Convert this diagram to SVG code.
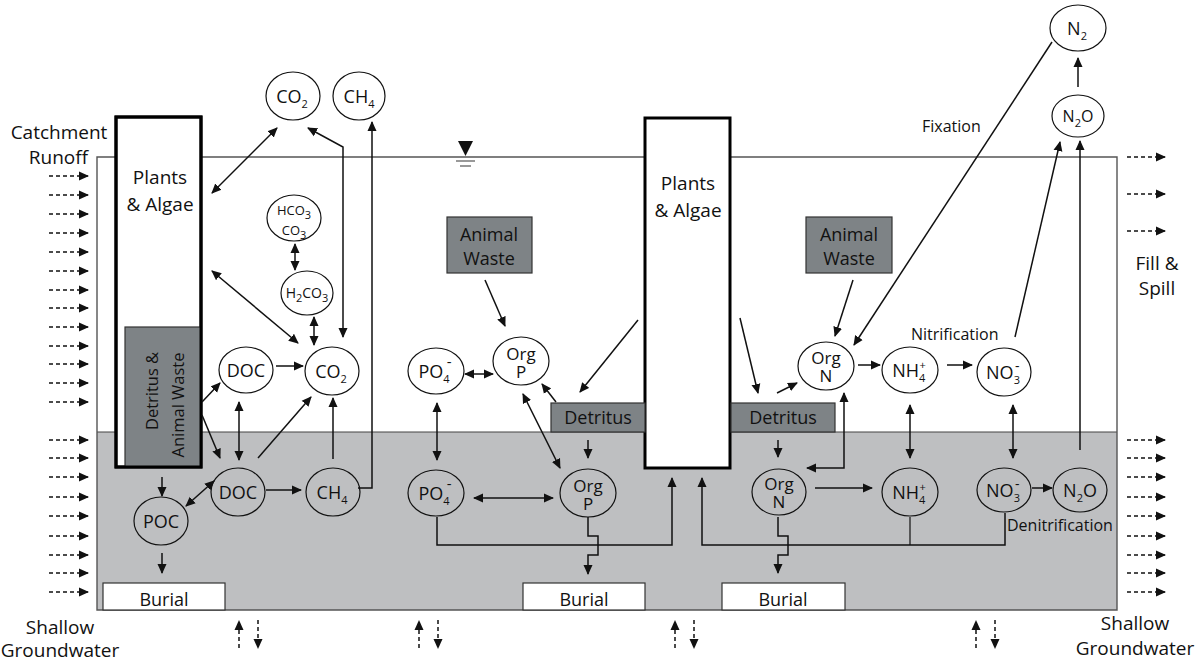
<svg xmlns="http://www.w3.org/2000/svg" width="1198" height="662" viewBox="0 0 1198 662">
<style>
text{font-family:"Open Sans","Noto Sans",sans-serif;fill:#111;}
.t{font-size:19px;}
.lb{font-size:18px;text-anchor:middle;}
.o{font-size:17px;text-anchor:middle;}
.sm{font-size:13px;text-anchor:middle;}
.sb{font-size:11px;}
.nt{font-size:16px;}
.el{fill:none;stroke:#111;stroke-width:1.2;}
.ar{fill:none;stroke:#111;stroke-width:1.5;marker-end:url(#a);}
.bi{fill:none;stroke:#111;stroke-width:1.5;marker-end:url(#a);marker-start:url(#a);}
.ln{fill:none;stroke:#111;stroke-width:1.2;}
.ds{fill:none;stroke:#111;stroke-width:1.5;stroke-dasharray:4 3;marker-end:url(#a);}
.dk{fill:#7e8386;stroke:#333;stroke-width:1.2;}
.pl{fill:#fff;stroke:#000;stroke-width:3;}
.bu{fill:#fff;stroke:#333;stroke-width:1.2;}
</style>
<defs>
<marker id="a" viewBox="0 0 10 10" refX="9" refY="5" markerWidth="10" markerHeight="10" markerUnits="userSpaceOnUse" orient="auto-start-reverse"><path d="M0,0.5 L10,5 L0,9.5 z" fill="#111"/></marker>
</defs>
<rect width="1198" height="662" fill="#fff"/>
<g id="pond">
<rect x="97" y="432" width="1020" height="178" fill="#bebfc1"/>
<line x1="97" y1="432" x2="1117" y2="432" stroke="#444" stroke-width="1.2"/>
<path d="M97,157 V610 H1117 V157 Z" fill="none" stroke="#555" stroke-width="1.4"/>
<polygon points="458,141 473,141 465.5,156" fill="#111"/>
<line x1="456" y1="161" x2="475" y2="161" stroke="#555" stroke-width="1.2"/>
<line x1="460" y1="166" x2="471" y2="166" stroke="#555" stroke-width="1.2"/>
</g>
<g id="labels">
<text class="t" x="59" y="139" text-anchor="middle">Catchment</text>
<text class="t" x="88" y="164" text-anchor="end">Runoff</text>
<text class="t" x="1157" y="270" text-anchor="middle">Fill &amp;</text>
<text class="t" x="1157" y="295" text-anchor="middle">Spill</text>
<text class="t" x="60" y="634" text-anchor="middle">Shallow</text>
<text class="t" x="60" y="657" text-anchor="middle">Groundwater</text>
<text class="t" x="1135" y="630" text-anchor="middle">Shallow</text>
<text class="t" x="1135" y="655" text-anchor="middle">Groundwater</text>
<text class="nt" x="922" y="132">Fixation</text>
<text class="nt" x="911" y="340">Nitrification</text>
<text class="nt" x="1007" y="531">Denitrification</text>
</g>
<g id="flows">
<path class="ds" d="M49,176 H88"/><path class="ds" d="M49,195 H88"/><path class="ds" d="M49,214 H88"/><path class="ds" d="M49,233 H88"/><path class="ds" d="M49,252 H88"/><path class="ds" d="M49,271 H88"/><path class="ds" d="M49,290 H88"/><path class="ds" d="M49,308 H88"/><path class="ds" d="M49,327 H88"/><path class="ds" d="M49,346 H88"/><path class="ds" d="M49,364 H88"/><path class="ds" d="M49,383 H88"/><path class="ds" d="M49,402 H88"/>
<path class="ds" d="M49,440 H88"/><path class="ds" d="M49,458 H88"/><path class="ds" d="M49,477 H88"/><path class="ds" d="M49,497 H88"/><path class="ds" d="M49,516 H88"/><path class="ds" d="M49,536 H88"/><path class="ds" d="M49,555 H88"/><path class="ds" d="M49,573 H88"/><path class="ds" d="M49,592 H88"/>
<path class="ds" d="M1127,157 H1165"/><path class="ds" d="M1127,194 H1165"/><path class="ds" d="M1127,231 H1165"/>
<path class="ds" d="M1127,440 H1165"/><path class="ds" d="M1127,458 H1165"/><path class="ds" d="M1127,477 H1165"/><path class="ds" d="M1127,497 H1165"/><path class="ds" d="M1127,516 H1165"/><path class="ds" d="M1127,536 H1165"/><path class="ds" d="M1127,555 H1165"/><path class="ds" d="M1127,573 H1165"/><path class="ds" d="M1127,592 H1165"/>
<path class="ds" d="M239,648 V621"/><path class="ds" d="M419,648 V621"/><path class="ds" d="M675,648 V621"/><path class="ds" d="M976,648 V621"/>
<path class="ds" d="M258,620 V648"/><path class="ds" d="M438,620 V648"/><path class="ds" d="M694,620 V648"/><path class="ds" d="M995,620 V648"/>
</g>
<g id="plants1">
<rect class="pl" x="116" y="117" width="85" height="350"/>
<text class="t" x="160" y="184" text-anchor="middle">Plants</text>
<text class="t" x="160" y="211" text-anchor="middle">&amp; Algae</text>
</g>
<g id="detritus1">
<rect class="dk" x="125" y="327" width="76" height="140"/>
<rect x="116" y="117" width="85" height="350" fill="none" stroke="#000" stroke-width="3"/>
<text transform="translate(163,397) rotate(-90)" text-anchor="middle" style="font-size:16.5px"><tspan x="6" y="-5">Detritus &amp;</tspan><tspan x="-8" y="21">Animal Waste</tspan></text>
</g>
<g id="plants2">
<rect class="pl" x="645" y="118" width="85" height="350"/>
<text class="t" x="688" y="190" text-anchor="middle">Plants</text>
<text class="t" x="688" y="217" text-anchor="middle">&amp; Algae</text>
</g>
<g id="detritusP"><rect class="dk" x="551" y="403" width="94" height="29"/><text class="lb" x="598" y="424">Detritus</text></g>
<g id="detritusN"><rect class="dk" x="731" y="403" width="104" height="29"/><text class="lb" x="783" y="424">Detritus</text></g>
<g id="wasteP"><rect class="dk" x="447" y="217" width="85" height="56"/><text class="lb" x="489" y="241">Animal</text><text class="lb" x="489" y="265">Waste</text></g>
<g id="wasteN"><rect class="dk" x="806" y="217" width="86" height="56"/><text class="lb" x="849" y="241">Animal</text><text class="lb" x="849" y="265">Waste</text></g>
<g id="burial1"><rect class="bu" x="103" y="583" width="122" height="27"/><text class="lb" x="164" y="606">Burial</text></g>
<g id="burial2"><rect class="bu" x="523" y="583" width="122" height="27"/><text class="lb" x="584" y="606">Burial</text></g>
<g id="burial3"><rect class="bu" x="722" y="583" width="123" height="27"/><text class="lb" x="783" y="606">Burial</text></g>
<g id="co2top"><ellipse class="el" cx="293" cy="96" rx="27" ry="24"/><text class="lb" x="292" y="103">CO<tspan class="sb" dy="5">2</tspan></text></g>
<g id="ch4top"><ellipse class="el" cx="359" cy="96" rx="26" ry="24"/><text class="lb" x="359" y="103">CH<tspan class="sb" dy="5">4</tspan></text></g>
<g id="hco3"><ellipse class="el" cx="294" cy="218" rx="27" ry="23"/><text class="sm" x="294" y="215">HCO<tspan class="sb" dy="4">3</tspan></text><text class="sm" x="294" y="235">CO<tspan class="sb" dy="4">3</tspan></text></g>
<g id="h2co3"><ellipse class="el" cx="307" cy="293" rx="26" ry="22"/><text class="sm" x="307" y="298" style="font-size:14px">H<tspan class="sb" dy="4">2</tspan><tspan dy="-4">CO</tspan><tspan class="sb" dy="4">3</tspan></text></g>
<g id="co2mid"><ellipse class="el" cx="332" cy="371" rx="27" ry="24"/><text class="lb" x="331" y="378">CO<tspan class="sb" dy="5">2</tspan></text></g>
<g id="docup"><ellipse class="el" cx="246" cy="370" rx="27" ry="23"/><text class="lb" x="246" y="377">DOC</text></g>
<g id="doclow"><ellipse class="el" cx="238" cy="492" rx="27" ry="24"/><text class="lb" x="238" y="499">DOC</text></g>
<g id="ch4low"><ellipse class="el" cx="333" cy="492" rx="27" ry="24"/><text class="lb" x="332" y="499">CH<tspan class="sb" dy="5">4</tspan></text></g>
<g id="poc"><ellipse class="el" cx="161" cy="521" rx="27" ry="24"/><text class="lb" x="161" y="528">POC</text></g>
<g id="po4up"><ellipse class="el" cx="436" cy="371" rx="28" ry="23"/><text class="lb" x="435" y="378">PO<tspan class="sb" dy="5">4</tspan><tspan class="sb" dx="-3" dy="-16" style="font-size:15px">-</tspan></text></g>
<g id="orgpup"><ellipse class="el" cx="521" cy="361" rx="28" ry="24"/><text class="o"><tspan x="521" y="360">Org</tspan><tspan x="521" dy="18">P</tspan></text></g>
<g id="po4low"><ellipse class="el" cx="436" cy="493" rx="28" ry="23"/><text class="lb" x="435" y="500">PO<tspan class="sb" dy="5">4</tspan><tspan class="sb" dx="-3" dy="-16" style="font-size:15px">-</tspan></text></g>
<g id="orgplow"><ellipse class="el" cx="588" cy="493" rx="28" ry="24"/><text class="o"><tspan x="588" y="492">Org</tspan><tspan x="588" dy="18">P</tspan></text></g>
<g id="orgnup"><ellipse class="el" cx="826" cy="366" rx="28" ry="24"/><text class="o"><tspan x="826" y="364">Org</tspan><tspan x="826" dy="18">N</tspan></text></g>
<g id="nh4up"><ellipse class="el" cx="910" cy="370" rx="28" ry="23"/><text class="lb" x="909" y="377">NH<tspan class="sb" dy="5">4</tspan><tspan class="sb" dx="-6" dy="-13">+</tspan></text></g>
<g id="no3up"><ellipse class="el" cx="1004" cy="372" rx="27" ry="24"/><text class="lb" x="1003" y="379">NO<tspan class="sb" dy="5">3</tspan><tspan class="sb" dx="-5" dy="-13" style="font-size:14px">-</tspan></text></g>
<g id="orgnlow"><ellipse class="el" cx="779" cy="492" rx="27" ry="23"/><text class="o"><tspan x="779" y="490">Org</tspan><tspan x="779" dy="18">N</tspan></text></g>
<g id="nh4low"><ellipse class="el" cx="910" cy="492" rx="28" ry="24"/><text class="lb" x="909" y="499">NH<tspan class="sb" dy="5">4</tspan><tspan class="sb" dx="-6" dy="-13">+</tspan></text></g>
<g id="no3low"><ellipse class="el" cx="1004" cy="490" rx="27" ry="22"/><text class="lb" x="1003" y="497">NO<tspan class="sb" dy="5">3</tspan><tspan class="sb" dx="-5" dy="-13" style="font-size:14px">-</tspan></text></g>
<g id="n2olow"><ellipse class="el" cx="1080" cy="490" rx="27" ry="22"/><text class="lb" x="1080" y="497">N<tspan class="sb" dy="5">2</tspan><tspan dy="-5">O</tspan></text></g>
<g id="n2otop"><ellipse class="el" cx="1078" cy="116" rx="26" ry="21"/><text class="lb" x="1078" y="122" style="font-size:16px">N<tspan class="sb" dy="5">2</tspan><tspan dy="-5">O</tspan></text></g>
<g id="n2"><ellipse class="el" cx="1078" cy="28" rx="28" ry="23"/><text class="lb" x="1077" y="35">N<tspan class="sb" dy="5">2</tspan></text></g>
<g id="connectors">
<path class="bi" d="M212,193 L277,128"/>
<path class="bi" d="M343,337 L343,147 L308,128"/>
<path class="ar" d="M358,488 H372 V122"/>
<path class="bi" d="M295,244 V270"/>
<path class="bi" d="M314,317 V345"/>
<path class="bi" d="M212,271 L298,343"/>
<path class="ar" d="M276,366 H303"/>
<path class="ar" d="M202,402 L220,383"/>
<path class="ar" d="M202,415 L220,458"/>
<path class="bi" d="M239,402 V460"/>
<path class="ar" d="M258,458 L311,397"/>
<path class="ar" d="M333,459 V398"/>
<path class="ar" d="M266,490 H301"/>
<path class="ar" d="M162,477 V496"/>
<path class="bi" d="M186,506 L214,481"/>
<path class="ar" d="M162,553 V573"/>
<path class="ar" d="M485,280 L505,326"/>
<path class="bi" d="M465,374 H493"/>
<path class="ar" d="M638,320 L580,392"/>
<path class="ar" d="M556,402 L542,384"/>
<path class="bi" d="M523,394 L560,468"/>
<path class="bi" d="M437,403 V460"/>
<path class="ar" d="M588,440 V458"/>
<path class="bi" d="M474,498 H553"/>
<path class="ar" d="M437,517 V545 H672 V478"/>
<path class="ar" d="M588,517 V536 H598 V555 H588 V574"/>
<path class="ar" d="M740,318 L758,393"/>
<path class="ar" d="M777,393 L797,383"/>
<path class="ar" d="M853,280 L835,336"/>
<path class="ar" d="M1052,42 L854,345"/>
<path class="ar" d="M858,365 H880"/>
<path class="ar" d="M947,365 H972"/>
<path class="ar" d="M1015,337 L1060,142"/>
<path class="ar" d="M1078,87 V58"/>
<path class="ar" d="M1080,450 V141"/>
<path class="bi" d="M1013,405 V458"/>
<path class="ar" d="M1032,488 H1052"/>
<path class="ar" d="M815,488 H872"/>
<path class="bi" d="M910,405 V458"/>
<path class="bi" d="M844,393 V468 H807"/>
<path class="ar" d="M778,440 V457"/>
<path class="ar" d="M778,517 V536 H788 V555 H778 V573"/>
<path class="ar" d="M1005,513 V545 H702 V478"/>
<path class="ln" d="M910,517 V545"/>
</g>
</svg>
